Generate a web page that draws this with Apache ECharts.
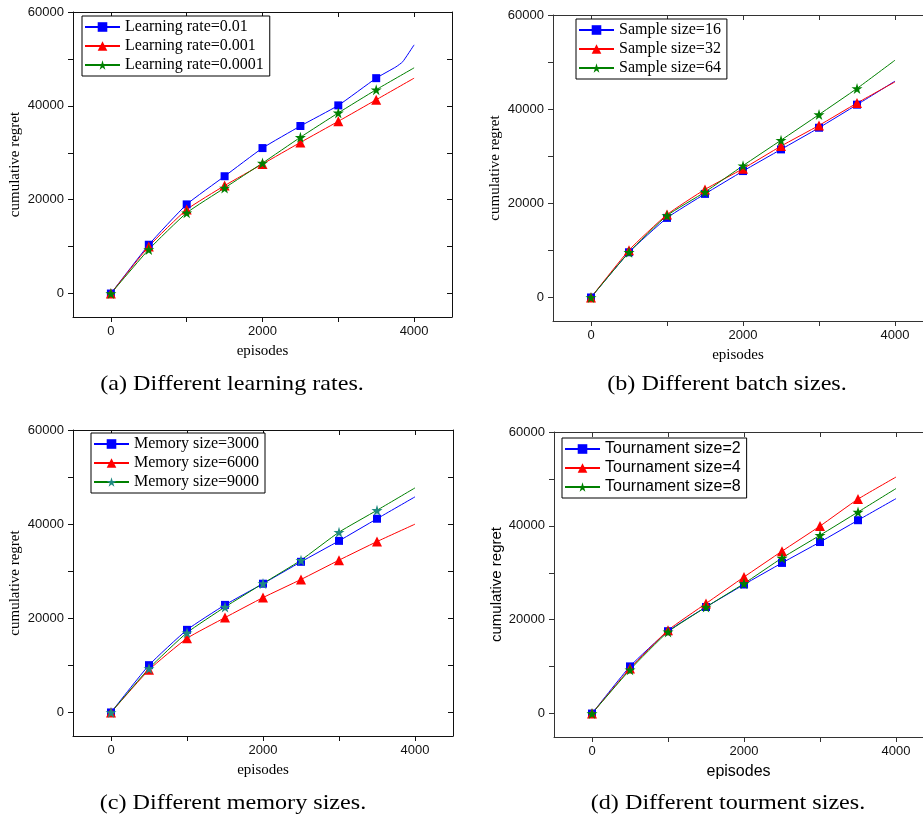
<!DOCTYPE html>
<html><head><meta charset="utf-8">
<script src="https://cdn.jsdelivr.net/npm/echarts@6/dist/echarts.min.js"></script>
<style>html,body{margin:0;padding:0;background:#fff}#c{width:923px;height:822px}</style>
</head><body><div id="c"></div>
<script>
// ---- data ----
const episodes = [0, 500, 1000, 1500, 2000, 2500, 3000, 3500, 4000];
const episodesLR001 = [0, 500, 1000, 1500, 2000, 2500, 3000, 3500, 3760, 3850, 4000];
const xTickValues = [0, 1000, 2000, 3000, 4000];
const xLabelValues = [0, 2000, 4000];
const yTickValues = [0, 10000, 20000, 30000, 40000, 50000, 60000];
const yLabelValues = [0, 20000, 40000, 60000];

// (a) learning rates
const lr001 = [0, 10400, 19000, 25000, 31000, 35700, 40100, 45900, 48300, 49400, 53000];
const lr0001 = [0, 10050, 17900, 23000, 27600, 32200, 36700, 41300, 45900];
const lr00001 = [0, 9400, 17200, 22500, 27800, 33300, 38500, 43450, 48100];
// (b) batch sizes
const bs16 = [0, 9600, 16900, 22000, 26850, 31450, 36050, 40950, 45950];
const bs32 = [0, 10050, 17600, 22950, 27350, 32150, 36550, 41300, 45800];
const bs64 = [0, 9600, 17400, 22400, 28000, 33400, 38850, 44400, 50400];
// (c) memory sizes
const ms3000 = [0, 10050, 17550, 22850, 27350, 32000, 36450, 41150, 45800];
const ms6000 = [0, 9050, 15750, 20150, 24400, 28250, 32350, 36300, 40000];
const ms9000 = [0, 9350, 16950, 22400, 27400, 32350, 38300, 42950, 47700];
// (d) tournament sizes
const ts2 = [0, 10050, 17550, 22700, 27500, 32100, 36550, 41200, 45800];
const ts4 = [0, 9600, 17750, 23450, 29100, 34600, 39950, 45700, 50400];
const ts8 = [0, 9350, 17400, 22700, 27700, 33150, 38000, 42950, 47950];

const captions = ['(a) Different learning rates.', '(b) Different batch sizes.', '(c) Different memory sizes.', '(d) Different tourment sizes.'];

// ---- styling ----
const SERIF = 'Liberation Serif';
const SANS = 'Liberation Sans';
const STAR = 'path://M50,0 L61,35 L98,35 L68,57 L79,91 L50,70 L21,91 L32,57 L2,35 L39,35 Z';
const BLUE = '#0000ff', RED = '#ff0000', GREEN = '#008000', TEAL = '#1f8a80';

const panels = [
  { grid: {left: 73, top: 12, width: 379, height: 305}, xmax: 4500, right: true, font: SERIF, axisColor: '#111',
    legend: {left: 82, top: 16},
    series: [
      {name: 'Learning rate=0.01', x: episodesLR001, y: lr001, color: BLUE, mc: BLUE, symbol: 'rect', size: 8},
      {name: 'Learning rate=0.001', x: episodes, y: lr0001, color: RED, mc: RED, symbol: 'triangle', size: 10},
      {name: 'Learning rate=0.0001', x: episodes, y: lr00001, color: GREEN, mc: GREEN, symbol: STAR, size: 11}
    ]},
  { grid: {left: 553, top: 15, width: 370, height: 306}, xmax: 4368, right: false, font: SERIF, axisColor: '#333',
    legend: {left: 576, top: 19},
    series: [
      {name: 'Sample size=16', x: episodes, y: bs16, color: BLUE, mc: BLUE, symbol: 'rect', size: 8},
      {name: 'Sample size=32', x: episodes, y: bs32, color: RED, mc: RED, symbol: 'triangle', size: 10},
      {name: 'Sample size=64', x: episodes, y: bs64, color: GREEN, mc: GREEN, symbol: STAR, size: 11}
    ]},
  { grid: {left: 73, top: 430, width: 380, height: 306}, xmax: 4500, right: true, font: SERIF, axisColor: '#111',
    legend: {left: 91, top: 433},
    series: [
      {name: 'Memory size=3000', x: episodes, y: ms3000, color: BLUE, mc: BLUE, symbol: 'rect', size: 8},
      {name: 'Memory size=6000', x: episodes, y: ms6000, color: RED, mc: RED, symbol: 'triangle', size: 10},
      {name: 'Memory size=9000', x: episodes, y: ms9000, color: GREEN, mc: TEAL, symbol: STAR, size: 11}
    ]},
  { grid: {left: 554, top: 432, width: 369, height: 305}, xmax: 4355, right: false, font: SANS, axisColor: '#333',
    legend: {left: 562, top: 438},
    series: [
      {name: 'Tournament size=2', x: episodes, y: ts2, color: BLUE, mc: BLUE, symbol: 'rect', size: 8},
      {name: 'Tournament size=4', x: episodes, y: ts4, color: RED, mc: RED, symbol: 'triangle', size: 10},
      {name: 'Tournament size=8', x: episodes, y: ts8, color: GREEN, mc: GREEN, symbol: STAR, size: 11}
    ]}
];

const grid = [], xAxis = [], yAxis = [], series = [], legend = [], graphic = [];
panels.forEach((p, i) => {
  grid.push(Object.assign({containLabel: false}, p.grid));
  const lineStyle = {color: p.axisColor, width: 1};
  const xBase = {gridIndex: i, type: 'value', min: -500, max: p.xmax, splitLine: {show: false},
    axisLine: {show: true, onZero: false, lineStyle}};
  xAxis.push(Object.assign({}, xBase, {
    position: 'bottom',
    name: 'episodes', nameLocation: 'middle', nameGap: 27,
    nameTextStyle: {fontFamily: p.font, fontSize: p.font === SANS ? 16 : 15, color: '#000'},
    axisTick: {show: true, inside: false, length: 5, lineStyle, customValues: xTickValues},
    axisLabel: {show: true, margin: 8, fontFamily: SANS, fontSize: 13, color: '#111', customValues: xLabelValues,
      formatter: v => String(v)}
  }));
  xAxis.push(Object.assign({}, xBase, {
    position: 'top',
    axisTick: {show: true, inside: true, length: 5, lineStyle, customValues: xTickValues},
    axisLabel: {show: false}
  }));
  const yBase = {gridIndex: i, type: 'value', min: -5000, max: 60000, splitLine: {show: false},
    axisLine: {show: true, onZero: false, lineStyle}};
  yAxis.push(Object.assign({}, yBase, {
    position: 'left',
    name: 'cumulative regret', nameLocation: 'middle', nameGap: 50,
    nameTextStyle: {fontFamily: p.font, fontSize: 15, color: '#000'},
    axisTick: {show: true, inside: false, length: 5, lineStyle, customValues: yTickValues},
    axisLabel: {show: true, margin: 9, fontFamily: SANS, fontSize: 13, color: '#111', customValues: yLabelValues,
      formatter: v => String(v)}
  }));
  yAxis.push(Object.assign({}, yBase, {
    position: 'right', show: p.right,
    axisTick: {show: true, inside: true, length: 5, lineStyle, customValues: yTickValues},
    axisLabel: {show: false}
  }));
  p.series.forEach(s => {
    const sz = s.size;
    series.push({
      type: 'line', name: s.name, xAxisIndex: 2 * i, yAxisIndex: 2 * i,
      data: s.x.map((x, k) => [x, s.y[k]]),
      symbol: s.symbol,
      symbolSize: v => (v[0] % 500 === 0 && v[0] < 4000) ? sz : 0,
      lineStyle: {color: s.color, width: 1},
      itemStyle: {color: s.mc},
      smooth: 0.15,
      animation: false
    });
  });
  legend.push({
    left: p.legend.left, top: p.legend.top, orient: 'vertical',
    data: p.series.map(s => s.name),
    itemWidth: 35, itemHeight: 12, itemGap: 3,
    padding: [3, 6, 3, 2],
    borderColor: '#000', borderWidth: 1, backgroundColor: '#fff',
    textStyle: {fontFamily: p.font, fontSize: 16, color: '#000'},
    selectedMode: false
  });
});
const capPos = [[232, 384], [727, 384], [233, 803], [728, 803]];
captions.forEach((t, i) => {
  graphic.push({type: 'text', x: capPos[i][0], y: capPos[i][1], scaleX: 1.15,
    style: {text: t, font: '21px "Liberation Serif"', fill: '#000', textAlign: 'center', textVerticalAlign: 'middle'}});
});

const chart = echarts.init(document.getElementById('c'), null, {renderer: 'canvas'});
chart.setOption({animation: false, backgroundColor: '#fff', grid, xAxis, yAxis, series, legend, graphic});
</script></body></html>
